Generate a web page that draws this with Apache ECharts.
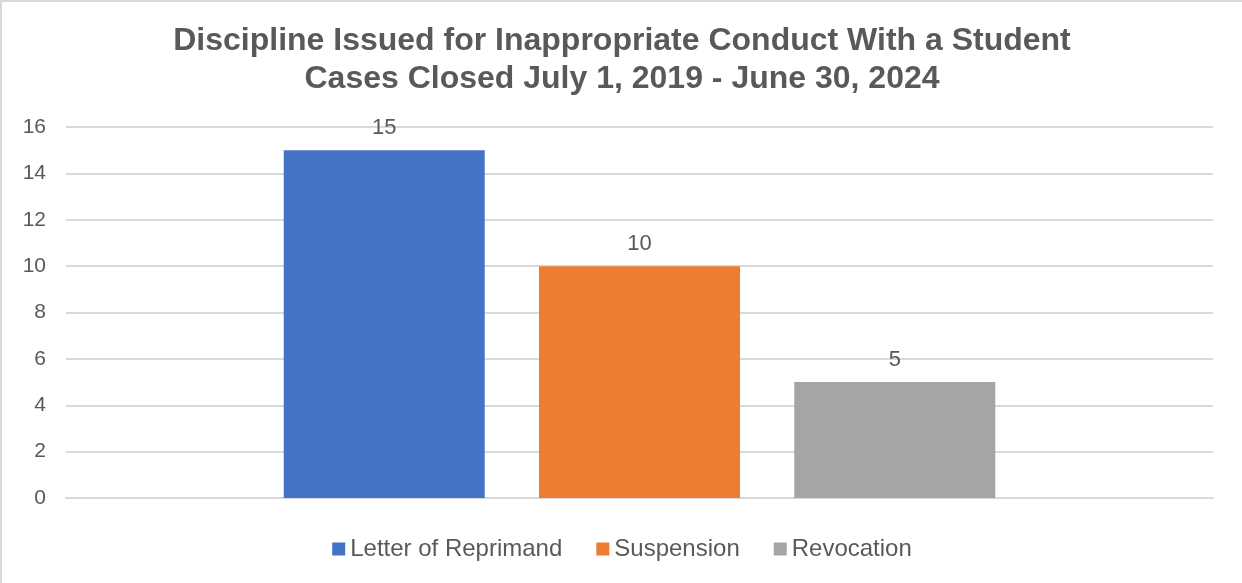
<!DOCTYPE html>
<html>
<head>
<meta charset="utf-8">
<script src="https://cdn.jsdelivr.net/npm/echarts@6/dist/echarts.min.js"></script>
<style>
	html, body { margin: 0; padding: 0; background: #fff; }
	#chart {
		width: 1242px;
		height: 583px;
		box-sizing: border-box;
		border-top: 2px solid #d9d9d9;
		border-left: 2px solid #d9d9d9;
	}
</style>
</head>
<body>
<div id="chart"></div>
<script>
	// 数据
	var titleLines = ['Discipline Issued for Inappropriate Conduct With a Student', 'Cases Closed July 1, 2019 - June 30, 2024'];
	var categories = [''];
	var seriesNames = ['Letter of Reprimand', 'Suspension', 'Revocation'];
	var seriesValues = [[15], [10], [5]];
	var colors = ['#4472c4', '#ed7d31', '#a5a5a5'];
	var yMin = 0, yMax = 16, yStep = 2;

	var textColor = '#595959';
	var font = 'Liberation Sans, Arial, sans-serif';

	var series = seriesNames.map(function (name, i) {
		return {
			name: name,
			type: 'bar',
			data: seriesValues[i],
			barWidth: 201,
			barGap: '27%',
			itemStyle: { color: colors[i] },
			label: {
				show: true,
				position: 'top',
				distance: 11,
				color: textColor,
				fontSize: 22,
				fontFamily: font
			}
		};
	});

	var chart = echarts.init(document.getElementById('chart'), null, { renderer: 'canvas' });
	chart.setOption({
		animation: false,
		textStyle: { fontFamily: font },
		title: {
			text: titleLines.join('\n'),
			left: 'center',
			top: 15,
			textStyle: {
				color: textColor,
				fontSize: 32,
				fontWeight: 'bold',
				lineHeight: 38,
				fontFamily: font
			}
		},
		legend: {
			data: seriesNames,
			bottom: 17,
			left: 'center',
			itemWidth: 13,
			itemHeight: 13,
			itemGap: 34,
			icon: 'rect',
			textStyle: { color: textColor, fontSize: 24, fontFamily: font }
		},
		grid: {
			left: 64,
			right: 29,
			top: 125,
			bottom: 85,
			containLabel: false
		},
		xAxis: {
			type: 'category',
			data: categories,
			axisLine: { show: true, lineStyle: { color: '#d9d9d9', width: 2 } },
			axisTick: { show: false },
			axisLabel: { show: false }
		},
		yAxis: {
			type: 'value',
			min: yMin,
			max: yMax,
			interval: yStep,
			axisLine: { show: false },
			axisTick: { show: false },
			axisLabel: { color: textColor, fontSize: 21, margin: 20, fontFamily: font },
			splitLine: { lineStyle: { color: '#d9d9d9', width: 2 } }
		},
		series: series
	});
</script>
</body>
</html>
